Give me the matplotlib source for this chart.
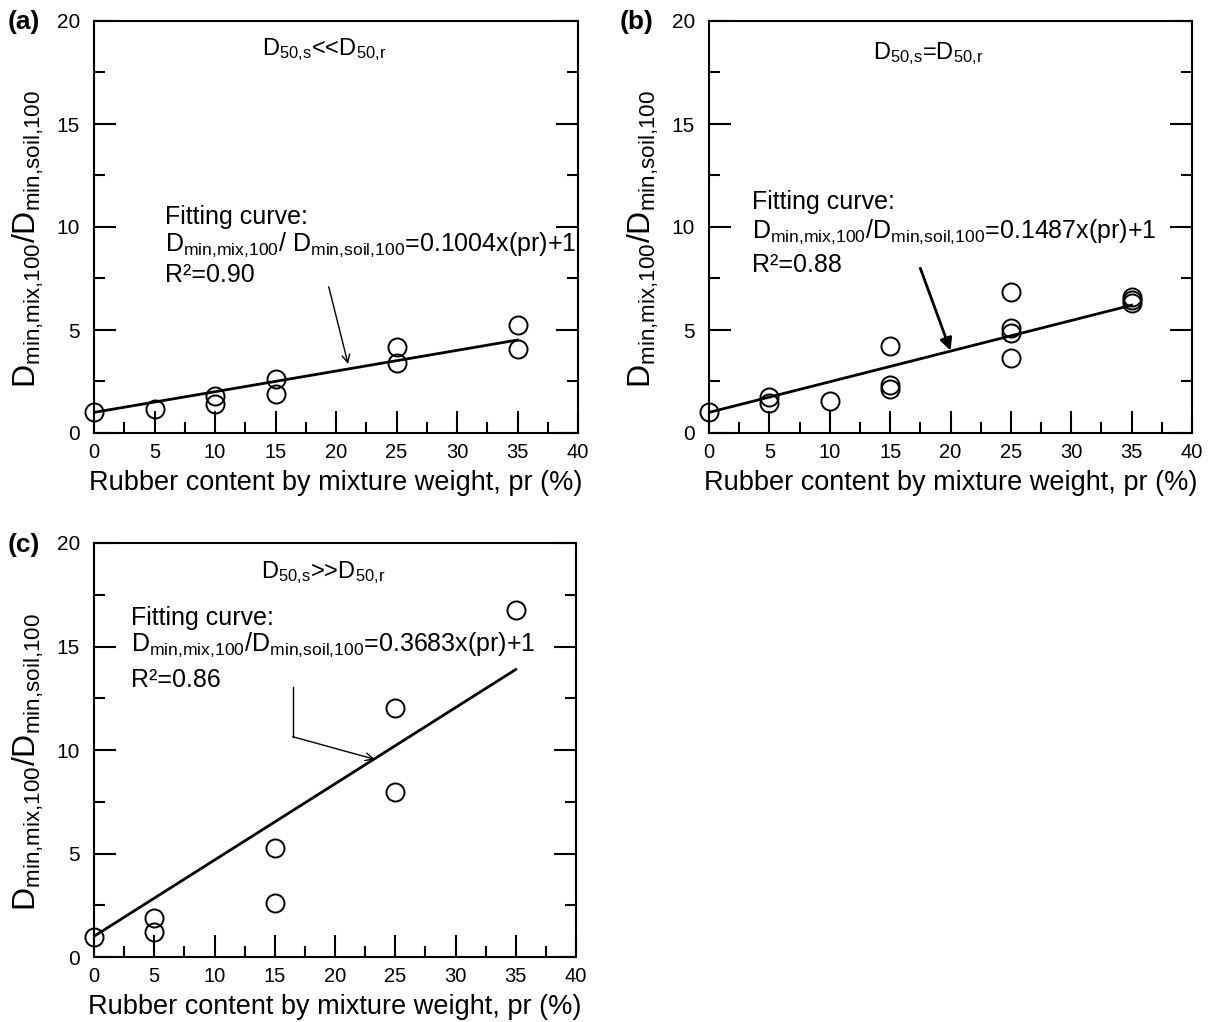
import numpy as np
import matplotlib
matplotlib.use("Agg")
import matplotlib.pyplot as plt
from matplotlib.ticker import MultipleLocator

plt.rcParams['font.family'] = ['Liberation Sans', 'DejaVu Sans']
plt.rcParams['mathtext.fontset'] = 'custom'
plt.rcParams['mathtext.rm'] = 'Liberation Sans'
plt.rcParams['mathtext.it'] = 'Liberation Sans'
plt.rcParams['mathtext.bf'] = 'Liberation Sans:bold'

# ---------------- data ----------------
x_a = [0, 5, 10, 10, 15, 15, 25, 25, 35, 35]
y_a = [1.03, 1.16, 1.8, 1.4, 2.6, 1.87, 4.19, 3.41, 5.24, 4.06]

x_b = [0, 5, 5, 10, 15, 15, 15, 25, 25, 25, 25, 35, 35, 35]
y_b = [1.03, 1.76, 1.44, 1.57, 4.22, 2.33, 2.14, 6.86, 5.08, 4.84, 3.63, 6.6, 6.45, 6.3]

x_c = [0, 5, 5, 15, 15, 25, 25, 35]
y_c = [0.98, 1.87, 1.19, 5.25, 2.62, 12.01, 7.96, 16.76]

slopes = [0.1004, 0.1487, 0.3683]
intercepts = [1, 1, 1]
r2_values = ["0.90", "0.88", "0.86"]
panel_labels = ["(a)", "(b)", "(c)"]
conditions = [r"$\mathregular{D_{50{,}s}}$<<$\mathregular{D_{50{,}r}}$",
              r"$\mathregular{D_{50{,}s}}$=$\mathregular{D_{50{,}r}}$",
              r"$\mathregular{D_{50{,}s}}$>>$\mathregular{D_{50{,}r}}$"]
x_ticks = [0, 5, 10, 15, 20, 25, 30, 35, 40]
y_ticks = [0, 5, 10, 15, 20]

xlabel = "Rubber content by mixture weight, pr (%)"
ylabel = r"$\mathregular{D_{min{,}mix{,}100}/D_{min{,}soil{,}100}}$"

W, H = 1215, 1022
fig = plt.figure(figsize=(W / 100, H / 100), dpi=100)

def rect(l, r, t, b):
    return [l / W, (H - b) / H, (r - l) / W, (b - t) / H]

axA = fig.add_axes(rect(94, 578, 21, 433))
axB = fig.add_axes(rect(709, 1192, 21, 433))
axC = fig.add_axes(rect(94, 576, 543, 957))

panels = [(axA, x_a, y_a), (axB, x_b, y_b), (axC, x_c, y_c)]

for i, (ax, xs, ys) in enumerate(panels):
    ax.set_xlim(0, 40)
    ax.set_ylim(0, 20)
    ax.set_xticks(x_ticks)
    ax.set_yticks(y_ticks)
    ax.xaxis.set_minor_locator(MultipleLocator(2.5))
    ax.yaxis.set_minor_locator(MultipleLocator(2.5))
    ax.tick_params(axis='x', which='both', direction='in', bottom=True, top=False,
                   labelsize=14.5, pad=7)
    ax.tick_params(axis='y', which='both', direction='in', left=True, right=True,
                   labelsize=15, pad=10)
    ax.tick_params(which='major', length=16, width=1.5)
    ax.tick_params(which='minor', length=8, width=1.5)
    for sp in ax.spines.values():
        sp.set_linewidth(1.5)
    ax.set_xlabel(xlabel, fontsize=19.5, labelpad=6)
    ax.set_ylabel(ylabel, fontsize=23)
    ax.yaxis.set_label_coords(-0.1, 0.47)

    xfit = np.linspace(0, max(xs), 50)
    ax.plot(xfit, slopes[i] * xfit + intercepts[i], color='black', lw=2, zorder=2)
    ax.plot(xs, ys, linestyle='none', marker='o', markersize=13,
            markerfacecolor='none', markeredgecolor='black', markeredgewidth=1.4,
            clip_on=False, zorder=3)

# condition headers
axA.text(19.0, 18.6, conditions[0], fontsize=17, ha='center', va='center')
axB.text(18.2, 18.4, conditions[1], fontsize=17, ha='center', va='center')
axC.text(19.0, 18.55, conditions[2], fontsize=17, ha='center', va='center')

# fitting text
eq_fmt_a = r"$\mathregular{D_{min{,}mix{,}100}}$/ $\mathregular{D_{min{,}soil{,}100}}$=%.4fx(pr)+1"
eq_fmt = r"$\mathregular{D_{min{,}mix{,}100}}$/$\mathregular{D_{min{,}soil{,}100}}$=%.4fx(pr)+1"
text_pos = [(axA, 5.85, [10.5, 9.13, 7.67]),
            (axB, 3.56, [11.2, 9.77, 8.16]),
            (axC, 3.1, [16.36, 15.07, 13.38])]
for i, (ax, tx, ty) in enumerate(text_pos):
    fmt = eq_fmt_a if i == 0 else eq_fmt
    ax.text(tx, ty[0], "Fitting curve:", fontsize=18, ha='left', va='center')
    ax.text(tx, ty[1], fmt % slopes[i], fontsize=18, ha='left', va='center')
    ax.text(tx, ty[2], "R²=" + r2_values[i], fontsize=18, ha='left', va='center')

# arrows
axA.annotate("", xy=(21.0, 3.35), xytext=(19.4, 7.1),
             arrowprops=dict(arrowstyle="->", color='black', lw=1.0,
                             mutation_scale=14, shrinkA=0, shrinkB=0))
axB.annotate("", xy=(20.0, 4.0), xytext=(17.5, 8.0),
             arrowprops=dict(arrowstyle="-|>", color='black', lw=2.0,
                             mutation_scale=18, shrinkA=0, shrinkB=0))
axC.plot([16.5, 16.5], [13.06, 10.64], color='black', lw=1.0)
axC.annotate("", xy=(23.3, 9.55), xytext=(16.5, 10.64),
             arrowprops=dict(arrowstyle="->", color='black', lw=1.0,
                             mutation_scale=14, shrinkA=0, shrinkB=0))

# panel labels
fig.text(8 / W, 1 - 22 / H, panel_labels[0], fontsize=19, fontweight='bold',
         ha='left', va='center')
fig.text(620 / W, 1 - 22 / H, panel_labels[1], fontsize=19, fontweight='bold',
         ha='left', va='center')
fig.text(8 / W, 1 - 545 / H, panel_labels[2], fontsize=19, fontweight='bold',
         ha='left', va='center')

fig.savefig("out.png", dpi=100)
